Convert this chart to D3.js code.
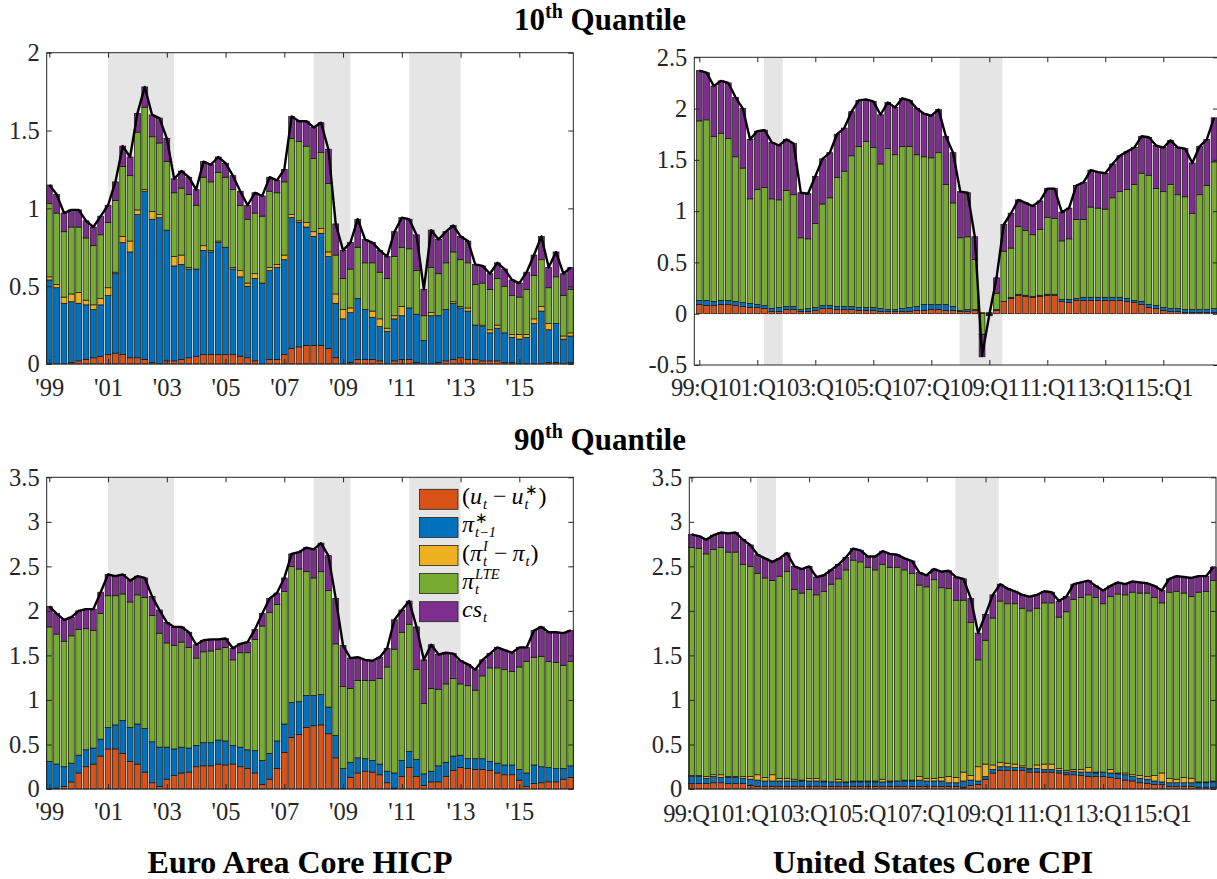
<!DOCTYPE html>
<html>
<head>
<meta charset="utf-8">
<script src="https://cdn.jsdelivr.net/npm/d3@7"></script>
<style>
  body { margin: 0; background: #fff; }
  svg { display: block; }
  text { font-family: "Liberation Serif", "Times New Roman", serif; }
</style>
</head>
<body>
<svg id="chart" width="1217" height="879"></svg>
<script>
// Quarterly observations 1999Q1 .. 2016Q4 (index 1..72)
const quarters = d3.range(1, 73);

// Tick positions (every second year, first quarter) and their labels
const tickQuarters = [1, 9, 17, 25, 33, 41, 49, 57, 65];
const euroTickLabels = ["'99", "'01", "'03", "'05", "'07", "'09", "'11", "'13", "'15"];
const usTickLabels = ["99:Q1", "01:Q1", "03:Q1", "05:Q1", "07:Q1", "09:Q1", "11:Q1", "13:Q1", "15:Q1"];

// Recession periods in quarter-index units
const euroRecessions = [[9, 18], [37, 42], [50, 57]];
const usRecessions = [[9.9, 12.5], [36.9, 42.8]];

// Component order (bottom to top) and colours
const componentKeys = ["gap", "pistar", "impt", "lte", "cs"];
const componentColors = ["#D95319", "#0072BD", "#EDB120", "#77AC30", "#7E2F8E"];

// ---------- Euro area, 10th quantile ----------
const ea10Gap = [0,0,0,.01,.02,.03,.04,.05,.06,.07, .06,.04,.04,.03,.01,0,.02,.02,.03,.04,
  .05,.06,.06,.06,.06,.06,.05,.04,.02,0, .03,.03,.06,.10,.11,.12,.12,.12,.10,.04,
  0,.01,.03,.03,.03,.02,0,.02,.03,.03, .01,0,0,.01,.02,.03,.04,.03,.03,.02,
  .02,.02,.01,.01,0,0,0,0,.01,.01, 0,.01];
const ea10PiStar = [.54,.49,.39,.39,.37,.35,.31,.33,.38,.51, .72,.68,.92,1.08,.92,.94,.84,.61,.61,.57,
  .56,.67,.66,.72,.69,.55,.51,.46,.53,.52, .57,.59,.61,.84,.80,.76,.70,.72,.59,.35,
  .29,.32,.39,.32,.27,.22,.21,.27,.28,.33, .31,.15,.31,.30,.33,.36,.32,.31,.22,.22,
  .18,.21,.19,.16,.16,.17,.26,.34,.21,.25, .16,.17];
const ea10Import = [.02,.02,.04,.05,.07,.03,.03,.04,.05,.01, .04,.07,.03,.01,.05,.02,0,.06,.06,.01,
  0,.03,.01,.01,0,.01,.04,.02,.03,0, .02,.02,.03,.02,.01,.03,.03,.03,.03,.06,
  .06,.03,0,0,.04,.05,.02,.02,.06,0, 0,0,.02,0,0,.01,.01,.02,0,.01,
  .02,.02,0,.02,.03,.02,.03,.03,.04,0, .02,.02];
const ea10Lte = [.47,.46,.42,.43,.42,.40,.38,.41,.42,.46, .45,.42,.50,.53,.48,.46,.44,.41,.43,.47,
  .41,.44,.44,.44,.45,.50,.42,.41,.39,.43, .49,.46,.47,.49,.51,.49,.47,.49,.44,.25,
  .20,.25,.33,.30,.31,.30,.32,.38,.38,.38, .28,.16,.29,.27,.30,.32,.30,.29,.26,.27,
  .26,.30,.30,.25,.24,.29,.28,.30,.23,.30, .26,.28];
const ea10Cs = [.12,.12,.12,.11,.11,.11,.12,.12,.11,.12, .13,.12,.12,.13,.14,.16,.15,.09,.11,.11,
  .10,.10,.11,.10,.09,.09,.09,.09,.13,.13, .09,.08,.08,.14,.13,.16,.20,.19,.22,.20,
  .18,.17,.18,.15,.13,.14,.14,.16,.19,.19, .23,.17,.24,.22,.20,.17,.15,.14,.13,.11,
  .10,.10,.11,.10,.09,.11,.13,.15,.13,.16, .14,.14];

// ---------- United States, 10th quantile ----------
const us10Gap = [.09,.08,.08,.09,.09,.08,.07,.06,.06,.05, .02,.02,.04,.04,.02,.02,.03,.05,.05,.04,
  .04,.04,.03,.03,.03,.02,.02,.02,.02,.02, .03,.03,.04,.04,.03,.03,.02,.02,.03,.01,
  .01,.03,.12,.15,.18,.17,.16,.17,.18,.18, .12,.11,.13,.13,.13,.13,.13,.13,.13,.12,
  .11,.09,.06,.05,.03,.02,.02,.01,.01,.01, .01,.01];
const us10PiStar = [.04,.05,.04,.04,.04,.04,.04,.04,.03,.03, .03,.04,.03,.03,.02,.03,.03,.03,.03,.03,
  .03,.03,.03,.03,.03,.03,.02,.02,.03,.04, .04,.06,.05,.05,.06,.04,.01,.02,.01,0,
  0,.01,0,.01,.01,.01,.01,.01,.01,.01, .02,.03,.02,.03,.03,.03,.03,.03,.03,.03,
  .02,.03,.03,.03,.03,.03,.03,.03,.03,.03, .03,.04];
const us10Import = [0,0,0,0,0,0,0,0,0,0, 0,0,0,0,0,0,0,0,0,0,
  0,0,0,0,0,0,0,0,0,0, 0,0,0,0,0,0,0,0,0,0,
  0,0,0,0,0,0,0,0,0,0, 0,0,0,0,0,0,0,0,0,0,
  0,0,0,0,0,0,0,0,0,0, 0,0];
const us10Lte = [1.75,1.76,1.61,1.63,1.58,1.41,1.31,1.02,1.12,1.15, 1.07,1.05,1.13,1.09,.70,.68,.82,.99,1.05,1.26,
  1.32,1.47,1.57,1.62,1.56,1.41,1.57,1.51,1.58,1.57, 1.48,1.44,1.43,1.48,1.17,1.01,.71,.71,.49,-.20,
  -.01,.16,.49,.48,.66,.63,.60,.64,.75,.74, .57,.59,.77,.76,.88,.87,.86,.97,1.03,1.06,
  1.13,1.25,1.26,1.14,1.13,1.21,1.11,1.10,.94,1.12, 1.21,1.43];
const us10Cs = [.49,.46,.49,.51,.54,.58,.58,.58,.57,.56, .55,.53,.50,.50,.44,.44,.46,.44,.44,.42,
  .42,.43,.45,.41,.45,.48,.45,.46,.47,.45, .45,.42,.41,.42,.47,.49,.45,.43,.22,-.22,
  -.01,.15,.26,.34,.26,.27,.28,.28,.28,.29, .28,.30,.33,.36,.36,.35,.35,.33,.35,.37,
  .36,.36,.37,.42,.43,.43,.46,.47,.49,.47, .45,.43];

// ---------- Euro area, 90th quantile ----------
const ea90Gap = [0,.01,.03,.08,.18,.25,.28,.37,.45,.45, .40,.31,.28,.19,.07,.03,.11,.15,.18,.19,
  .25,.26,.26,.28,.27,.28,.25,.23,.18,.05, .11,.23,.41,.58,.61,.69,.71,.72,.62,.35,
  0,.13,.18,.20,.19,.16,.07,.01,.14,.24, .14,.04,.08,.08,.14,.21,.24,.23,.22,.22,
  .21,.18,.16,.16,.10,.03,.06,.07,.08,.08, .11,.13];
const ea90PiStar = [.31,.27,.22,.21,.20,.19,.18,.19,.24,.27, .37,.38,.45,.49,.46,.44,.36,.30,.29,.27,
  .24,.26,.26,.27,.27,.21,.22,.21,.25,.27, .29,.31,.32,.39,.37,.36,.34,.34,.30,.25,
  .23,.17,.17,.14,.13,.12,.13,.17,.18,.18, .19,.13,.12,.18,.16,.16,.14,.11,.12,.12,
  .10,.11,.11,.11,.12,.15,.21,.18,.16,.15, .12,.13];
const ea90Import = [0,0,0,0,0,0,0,0,0,0, 0,0,0,0,0,0,0,0,0,0,
  0,0,0,0,0,0,0,0,0,0, 0,0,0,0,0,0,0,0,0,0,
  0,0,0,0,0,0,0,0,0,0, 0,0,0,0,0,0,0,0,0,0,
  0,0,0,0,0,0,0,0,0,0, 0,0];
const ea90Lte = [1.51,1.46,1.41,1.43,1.41,1.36,1.32,1.41,1.48,1.45, 1.42,1.41,1.45,1.47,1.42,1.28,1.17,1.16,1.18,1.13,
  .98,1.02,1.03,1.02,1.05,.96,1.06,1.09,1.25,1.51, 1.58,1.53,1.49,1.53,1.49,1.39,1.32,1.38,1.31,1.03,
  .92,.83,.87,.88,.90,.96,1.17,1.39,1.44,1.43, 1.01,.79,.93,.86,.88,.87,.80,.82,.77,.93,
  1.05,1.07,1.07,1.05,1.15,1.25,1.21,1.24,1.19,1.19, 1.16,1.17];
const ea90Cs = [.23,.23,.24,.21,.21,.22,.24,.24,.24,.22, .22,.24,.21,.22,.21,.26,.23,.21,.17,.17,
  .15,.13,.13,.11,.10,.13,.10,.12,.11,.14, .16,.13,.15,.14,.19,.27,.32,.32,.39,.51,
  .46,.34,.26,.23,.22,.24,.21,.33,.25,.26, .48,.49,.49,.39,.35,.28,.26,.24,.23,.18,
  .16,.23,.22,.21,.22,.16,.30,.33,.33,.34, .36,.35];

// ---------- United States, 90th quantile ----------
const us90Gap = [.06,.06,.06,.07,.07,.06,.06,.06,.04,.03, .03,.03,.03,.03,.03,.03,.03,.03,.03,.03,
  .03,.03,.03,.03,.03,.03,.03,.03,.03,.03, .03,.03,.03,.03,.03,.03,.03,.02,.04,.05,
  .11,.18,.21,.21,.21,.21,.19,.19,.19,.19, .18,.16,.16,.15,.14,.14,.14,.13,.12,.10,
  .09,.07,.06,.05,.05,.03,.03,.03,.03,.02, .02,.02];
const us90PiStar = [.08,.08,.06,.07,.06,.07,.07,.06,.07,.07, .06,.06,.06,.06,.06,.06,.06,.06,.05,.05,
  .05,.04,.05,.05,.05,.05,.05,.05,.06,.06, .06,.07,.06,.06,.06,.04,.04,.07,.06,.04,
  .03,.04,.04,.04,.03,.03,.03,.04,.03,.03, .03,.03,.04,.04,.05,.04,.05,.05,.05,.06,
  .05,.05,.05,.04,.03,.04,.04,.04,.04,.05, .05,.06];
const us90Import = [.01,.01,.02,.02,.03,.01,.01,.02,.03,.06, .04,.07,.03,.03,.02,.01,.03,.03,.01,0,
  .03,.01,.01,.01,.01,.01,.03,.01,0,.01, .01,.04,.03,.03,.04,.07,.06,.10,.05,.16,
  .14,.05,.05,.04,.04,.02,.01,.04,.06,.06, .02,.02,.02,.03,.05,.01,0,.04,.01,.02,
  .02,.03,.03,.06,.10,.05,.04,.06,.05,.01, .01,.01];
const us90Lte = [2.56,2.55,2.50,2.53,2.55,2.52,2.52,2.38,2.36,2.26, 2.24,2.18,2.27,2.32,2.13,2.10,2.12,2.06,2.13,2.22,
  2.25,2.38,2.48,2.46,2.40,2.37,2.41,2.40,2.40,2.36, 2.32,2.15,2.15,2.23,2.13,2.11,1.99,1.93,1.72,1.20,
  1.39,1.65,1.81,1.79,1.80,1.77,1.77,1.76,1.81,1.81, 1.70,1.78,1.91,1.93,1.94,1.96,1.89,1.94,2.01,2.00,
  2.05,2.05,2.06,2.00,1.91,2.09,2.11,2.07,2.04,2.13, 2.14,2.25];
const us90Cs = [.15,.14,.16,.16,.17,.21,.22,.28,.24,.21, .22,.21,.20,.21,.26,.27,.26,.20,.18,.16,
  .16,.14,.13,.13,.12,.15,.15,.15,.14,.13, .14,.14,.13,.12,.18,.20,.26,.24,.27,.30,
  .29,.26,.19,.17,.14,.15,.16,.15,.13,.12, .18,.17,.17,.17,.16,.13,.15,.12,.13,.12,
  .12,.12,.11,.13,.14,.15,.17,.18,.21,.18, .17,.15];

// ---------- drawing ----------
const svg = d3.select("#chart");
const axisColor = "#262626";
const serif = '"Liberation Serif", "Times New Roman", serif';
const tickFont = 24.5;

const panels = [
  { series: [ea10Gap, ea10PiStar, ea10Import, ea10Lte, ea10Cs], yDomain: [0, 2], yTicks: [0, .5, 1, 1.5, 2],
    left: 46.7, right: 573.3, top: 52.7, bottom: 364, x1: 49.3, dx: 7.344,
    tickLabels: euroTickLabels, shade: euroRecessions, labelBase: 32, spacing: 0 },
  { series: [us10Gap, us10PiStar, us10Import, us10Lte, us10Cs], yDomain: [-0.5, 2.5], yTicks: [-0.5, 0, .5, 1, 1.5, 2, 2.5],
    left: 694.3, right: 1218, top: 57.3, bottom: 365, x1: 699.3, dx: 7.25,
    tickLabels: usTickLabels, shade: usRecessions, labelBase: 31, spacing: -0.7 },
  { series: [ea90Gap, ea90PiStar, ea90Import, ea90Lte, ea90Cs], yDomain: [0, 3.5], yTicks: [0, .5, 1, 1.5, 2, 2.5, 3, 3.5],
    left: 46.7, right: 573.3, top: 477.3, bottom: 789, x1: 49.3, dx: 7.344,
    tickLabels: euroTickLabels, shade: euroRecessions, labelBase: 31, spacing: 0 },
  { series: [us90Gap, us90PiStar, us90Import, us90Lte, us90Cs], yDomain: [0, 3.5], yTicks: [0, .5, 1, 1.5, 2, 2.5, 3, 3.5],
    left: 689.3, right: 1216, top: 477.3, bottom: 789, x1: 691.5, dx: 7.35,
    tickLabels: usTickLabels, shade: usRecessions, labelBase: 33, spacing: -0.7 }
];

function styleAxis(g, spacing) {
  g.attr("font-family", serif).attr("font-size", tickFont);
  g.select(".domain").remove();
  g.selectAll(".tick line").attr("stroke", axisColor).attr("stroke-width", 1);
  g.selectAll(".tick text").attr("fill", axisColor)
    .attr("font-family", serif).attr("font-size", tickFont)
    .attr("letter-spacing", spacing || 0);
}

function drawPanel(p) {
  const g = svg.append("g");
  const padL = (p.x1 - p.left) / p.dx;
  const padR = (p.right - (p.x1 + 71 * p.dx)) / p.dx;
  const x = d3.scaleLinear().domain([1 - padL, 72 + padR]).range([p.left, p.right]);
  const y = d3.scaleLinear().domain(p.yDomain).range([p.bottom, p.top]);

  // recession shading
  g.selectAll(".shade").data(p.shade).join("rect")
    .attr("x", d => x(d[0])).attr("width", d => x(d[1]) - x(d[0]))
    .attr("y", p.top).attr("height", p.bottom - p.top)
    .attr("fill", "#e5e5e5");

  // stacked bars (negative parts stacked downward from zero)
  const rows = quarters.map((q, i) => {
    const r = { q };
    componentKeys.forEach((k, j) => r[k] = p.series[j][i]);
    r.total = d3.sum(componentKeys, k => r[k]);
    return r;
  });
  const layers = d3.stack().keys(componentKeys).offset(d3.stackOffsetDiverging)(rows);
  const bw = 0.8 * p.dx;
  layers.forEach((layer, j) => {
    g.append("g").selectAll("rect")
      .data(layer.filter(d => d[1] !== d[0]))
      .join("rect")
      .attr("x", d => x(d.data.q) - bw / 2)
      .attr("width", bw)
      .attr("y", d => y(Math.max(d[0], d[1])))
      .attr("height", d => Math.abs(y(d[0]) - y(d[1])))
      .attr("fill", componentColors[j])
      .attr("stroke", "#111")
      .attr("stroke-width", 0.7);
  });

  // total line
  g.append("path").datum(rows)
    .attr("fill", "none").attr("stroke", "#000").attr("stroke-width", 2.4)
    .attr("stroke-linejoin", "round")
    .attr("d", d3.line().x(d => x(d.q)).y(d => y(d.total)));

  // axes with inward ticks on all four sides
  const tickFmt = d => p.tickLabels[tickQuarters.indexOf(d)];
  g.append("g").attr("transform", `translate(0,${p.bottom})`)
    .call(d3.axisBottom(x).tickValues(tickQuarters).tickFormat(tickFmt)
      .tickSizeInner(-5).tickSizeOuter(0).tickPadding(p.labelBase - 0.71 * tickFont))
    .call(styleAxis, p.spacing);
  g.append("g").attr("transform", `translate(0,${p.top})`)
    .call(d3.axisTop(x).tickValues(tickQuarters).tickFormat("").tickSizeInner(-5).tickSizeOuter(0))
    .call(styleAxis);
  g.append("g").attr("transform", `translate(${p.left},0)`)
    .call(d3.axisLeft(y).tickValues(p.yTicks).tickFormat(d => String(d))
      .tickSizeInner(-5).tickSizeOuter(0).tickPadding(7))
    .call(styleAxis);
  g.append("g").attr("transform", `translate(${p.right},0)`)
    .call(d3.axisRight(y).tickValues(p.yTicks).tickFormat("").tickSizeInner(-5).tickSizeOuter(0))
    .call(styleAxis);

  // box
  g.append("rect").attr("x", p.left).attr("y", p.top)
    .attr("width", p.right - p.left).attr("height", p.bottom - p.top)
    .attr("fill", "none").attr("stroke", axisColor).attr("stroke-width", 1);
}

panels.forEach(drawPanel);

// titles
function quantileTitle(num, cx, baseline) {
  const t = svg.append("text").attr("x", cx).attr("y", baseline)
    .attr("text-anchor", "middle").attr("font-weight", "bold").attr("font-size", 31).attr("fill", "#000");
  t.append("tspan").text(num);
  t.append("tspan").attr("font-size", 20).attr("dy", -12).text("th");
  t.append("tspan").attr("dy", 12).text(" Quantile");
}
quantileTitle("10", 600, 30);
quantileTitle("90", 600, 450);

svg.append("text").attr("x", 300).attr("y", 873).attr("text-anchor", "middle")
  .attr("font-weight", "bold").attr("font-size", 32).text("Euro Area Core HICP");
svg.append("text").attr("x", 933).attr("y", 873).attr("text-anchor", "middle")
  .attr("font-weight", "bold").attr("font-size", 32).text("United States Core CPI");

// legend with math-style labels: each label is one <text> with positioned tspans
const legendLabels = [
  [{ t: "(" }, { t: "u", i: true }, { sub: "t" }, { op: "−" }, { t: "u", i: true }, { sub: "t", sup: "∗" }, { t: ")" }],
  [{ t: "π", i: true }, { sub: "t−1", sup: "∗" }],
  [{ t: "(" }, { t: "π", i: true }, { sub: "t", sup: "I" }, { op: "−" }, { t: "π", i: true }, { sub: "t" }, { t: ")" }],
  [{ t: "π", i: true }, { sub: "t", sup: "LTE" }],
  [{ t: "cs", i: true }, { sub: "t" }]
];

const mainSize = 24, scriptSize = 14.5;
function measure(txt, size, italic) {
  const t = svg.append("text").attr("font-size", size)
    .attr("font-style", italic ? "italic" : "normal").text(txt);
  const w = t.node().getComputedTextLength();
  t.remove();
  return w;
}

function mathLabel(parent, x0, baseline, parts) {
  const text = parent.append("text").attr("x", x0).attr("y", baseline).attr("fill", "#000");
  let x = x0;
  const put = (txt, xx, yy, size, italic) => {
    text.append("tspan").attr("x", xx).attr("y", yy)
      .attr("font-size", size).attr("font-style", italic ? "italic" : "normal").text(txt);
    return measure(txt, size, italic);
  };
  parts.forEach(pt => {
    if (pt.t !== undefined) {
      x += put(pt.t, x, baseline, mainSize, pt.i);
    } else if (pt.op !== undefined) {
      x += 5;
      x += put(pt.op, x, baseline, mainSize, false);
      x += 5;
    } else {
      let w = 0;
      if (pt.sup) w = Math.max(w, put(pt.sup, x + 1, baseline - 9.5, scriptSize, pt.sup !== "∗"));
      if (pt.sub) w = Math.max(w, put(pt.sub, x + 1, baseline + 5, scriptSize, true));
      x += w + 2;
    }
  });
}

const legend = svg.append("g");
const legendTop = 489.3, legendStep = 28.1;
legendLabels.forEach((parts, i) => {
  const yTop = legendTop + i * legendStep;
  legend.append("rect").attr("x", 419.5).attr("y", yTop).attr("width", 38.5).attr("height", 20)
    .attr("fill", componentColors[i]).attr("stroke", "#222").attr("stroke-width", 0.8);
  mathLabel(legend, 462, yTop + 15, parts);
});
</script>
</body>
</html>
